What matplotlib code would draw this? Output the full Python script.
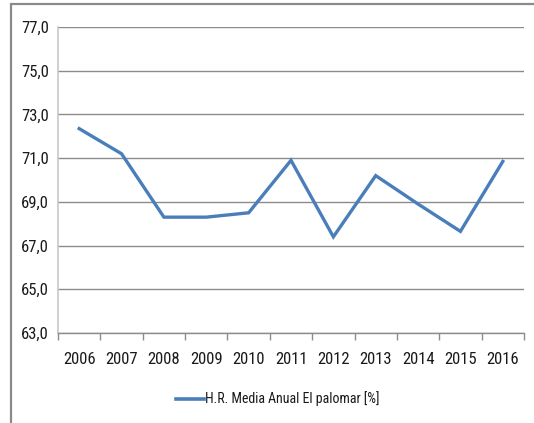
import matplotlib
matplotlib.use("Agg")
import matplotlib.pyplot as plt
from matplotlib.lines import Line2D
from matplotlib.patches import Rectangle
from matplotlib import font_manager

years = ["2006", "2007", "2008", "2009", "2010", "2011",
         "2012", "2013", "2014", "2015", "2016"]
humidity = [72.35, 71.2, 68.3, 68.3, 68.5, 70.9, 67.4, 70.2, 68.9, 67.65, 70.85]
y_ticks = [63, 65, 67, 69, 71, 73, 75, 77]
series_label = "H.R. Media Anual El palomar [%]"

# narrow sans if one is around, otherwise an Arial-like face
names = {f.name for f in font_manager.fontManager.ttflist}
candidates = ["Roboto Condensed", "Open Sans Condensed", "Liberation Sans Narrow",
              "DejaVu Sans Condensed", "Liberation Sans"]
font = next((c for c in candidates if c in names), "DejaVu Sans")
plt.rcParams["font.family"] = [font, "DejaVu Sans"]

W, H = 534, 423
fig = plt.figure(figsize=(W / 100, H / 100), dpi=100)
ax = fig.add_axes([58 / W, 1 - 333 / H, (524 - 58) / W, (333 - 27) / H])

xs = list(range(len(years)))
ax.plot(xs, humidity, color="#4a7ebb", linewidth=2.4, solid_joinstyle="miter")

ax.set_xlim(-0.5, len(years) - 0.5)
ax.set_ylim(63, 77)
ax.set_yticks(y_ticks)
ax.set_yticklabels([f"{v:.1f}".replace(".", ",") for v in y_ticks])
ax.set_xticks(xs)
ax.set_xticklabels(years)
ax.set_xticks([x - 0.5 for x in range(len(years) + 1)], minor=True)

ax.grid(axis="y", color="#8c8c8c", linewidth=1.0)
ax.set_axisbelow(True)
for side in ("top", "right"):
    ax.spines[side].set_visible(False)
ax.spines["left"].set_color("#c8c8c8")
ax.spines["left"].set_linewidth(1.2)
ax.spines["bottom"].set_color("#8c8c8c")
ax.spines["bottom"].set_linewidth(1.0)

ax.tick_params(axis="y", length=0, pad=6.5, labelsize=12, labelcolor="#1a1a1a")
ax.tick_params(axis="x", which="major", length=0, pad=14, labelsize=12, labelcolor="#1a1a1a")
ax.tick_params(axis="x", which="minor", length=5, color="#8c8c8c", width=1.0)

handle = Line2D([], [], color="#4a7ebb", linewidth=2.6)
leg = fig.legend([handle], [series_label], loc="center", bbox_to_anchor=(0.52, 1 - 399 / H),
                 frameon=False, fontsize=10, handlelength=2.0, handletextpad=0.1)
for t in leg.get_texts():
    t.set_color("#1a1a1a")

# outer chart frame, running off the right and bottom edges
fig.patches.append(Rectangle((11 / W, -0.05), 1.2, 1 - 4.5 / H + 0.05,
                             transform=fig.transFigure, fill=False,
                             edgecolor="#8a8a8a", linewidth=1.6))

fig.savefig("out.png", dpi=100)
